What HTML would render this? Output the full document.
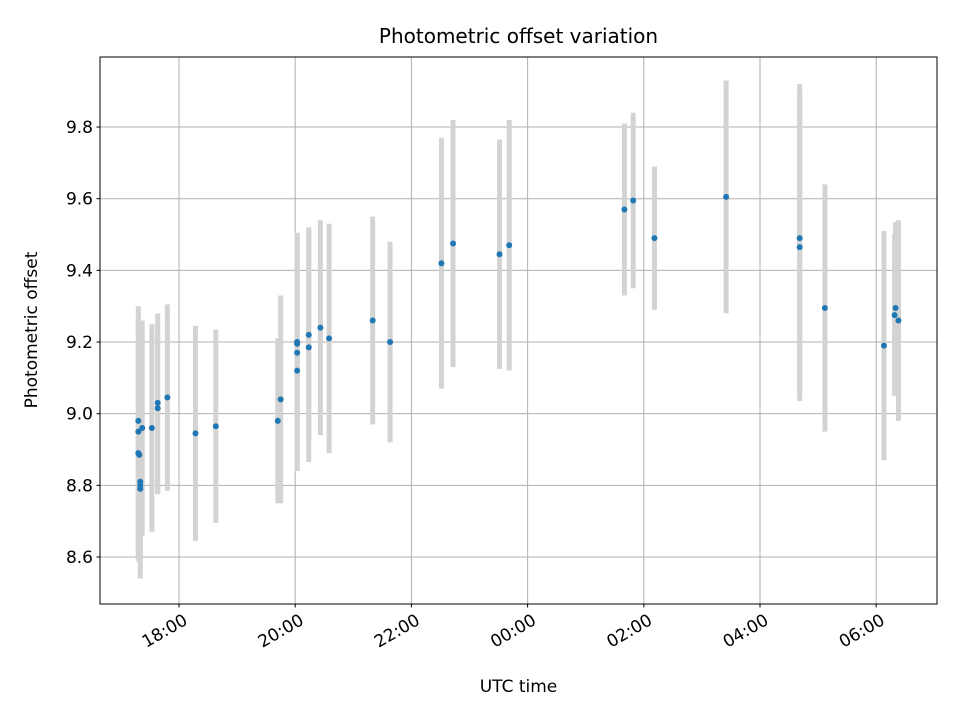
<!DOCTYPE html>
<html><head><meta charset="utf-8"><style>
body{margin:0;background:#fff;font-family:"Liberation Sans","DejaVu Sans",sans-serif}
svg text{font-family:"DejaVu Sans","Liberation Sans",sans-serif;fill:#000}
</style></head><body>
<svg id="chart" width="960" height="720" xmlns="http://www.w3.org/2000/svg">
<rect width="960" height="720" fill="#fff"/>
<g id="grid"></g><g id="bars"></g><g id="pts"></g><g id="axes"></g>
<text x="518.5" y="43" font-size="20" text-anchor="middle">Photometric offset variation</text>
<text x="518.5" y="692" font-size="17" text-anchor="middle">UTC time</text>
<text transform="translate(37,330) rotate(-90)" font-size="17" text-anchor="middle">Photometric offset</text>
</svg>
<script>
const times=["17:18","17:18","17:18","17:19","17:20","17:20","17:20","17:22","17:32","17:38","17:38","17:48","18:17","18:38","19:42","19:45","20:02","20:02","20:02","20:02","20:14","20:14","20:26","20:35","21:20","21:38","22:31","22:43","23:31","23:41","01:40","01:49","02:11","03:25","04:41","04:41","05:07","06:08","06:19","06:20","06:23"];
const offsets=[8.98,8.95,8.89,8.885,8.81,8.80,8.79,8.96,8.96,9.015,9.03,9.045,8.945,8.965,8.98,9.04,9.12,9.17,9.195,9.2,9.185,9.22,9.24,9.21,9.26,9.2,9.42,9.475,9.445,9.47,9.57,9.595,9.49,9.605,9.49,9.465,9.295,9.19,9.275,9.295,9.26];
const errors=[0.29,0.35,0.3,0.3,0.27,0.2,0.2,0.3,0.29,0.24,0.25,0.26,0.3,0.27,0.23,0.29,0.28,0.33,0.31,0.3,0.32,0.3,0.3,0.32,0.29,0.28,0.35,0.345,0.32,0.35,0.24,0.245,0.2,0.325,0.43,0.43,0.345,0.32,0.225,0.24,0.28];
const yTicks=[8.6,8.8,9.0,9.2,9.4,9.6,9.8];
const xTickLabels=["18:00","20:00","22:00","00:00","02:00","04:00","06:00"];
const L=100,R=937,T=57,B=604;
function hrs(s){let [h,m]=s.split(":").map(Number);if(h<12)h+=24;return h+m/60;}
function X(h){return 179+(h-18)*58.1;}
function Y(v){return 557-(v-8.6)*358.3;}
const NS="http://www.w3.org/2000/svg";
function mk(p,t,a){const e=document.createElementNS(NS,t);for(const k in a)e.setAttribute(k,a[k]);p.appendChild(e);return e;}
const grid=document.getElementById("grid"),axes=document.getElementById("axes"),bars=document.getElementById("bars"),pts=document.getElementById("pts");
yTicks.forEach(v=>{const y=Y(v);
const g=mk(grid,"line",{x1:L,x2:R,y1:y,y2:y,stroke:"#b0b0b0","stroke-width":1});


mk(axes,"line",{x1:L-3.5,x2:L,y1:y,y2:y,stroke:"#000"});
const t=mk(axes,"text",{x:L-7,y:y+6,"font-size":17,"text-anchor":"end"});t.textContent=v.toFixed(1);


});
xTickLabels.forEach(s=>{const x=X(hrs(s));
const g=mk(grid,"line",{x1:x,x2:x,y1:T,y2:B,stroke:"#b0b0b0","stroke-width":1});


mk(axes,"line",{x1:x,x2:x,y1:B,y2:B+3.5,stroke:"#000"});
const ax=x+3,ay=B+8;
const t=mk(axes,"text",{x:ax,y:ay,dy:"0.78em","font-size":17,"text-anchor":"end",transform:`rotate(-30 ${ax} ${ay})`});t.textContent=s;


});
const fr=mk(axes,"rect",{x:L,y:T,width:R-L,height:B-T,fill:"none",stroke:"#000","stroke-width":1});


times.forEach((s,i)=>{const x=X(hrs(s));
const b=mk(bars,"line",{x1:x,x2:x,y1:Y(offsets[i]-errors[i]),y2:Y(offsets[i]+errors[i]),stroke:"#d3d3d3","stroke-width":5});


const c=mk(pts,"circle",{cx:x,cy:Y(offsets[i]),r:3,fill:"#1f77b4"});


});
</script>
</body></html>
